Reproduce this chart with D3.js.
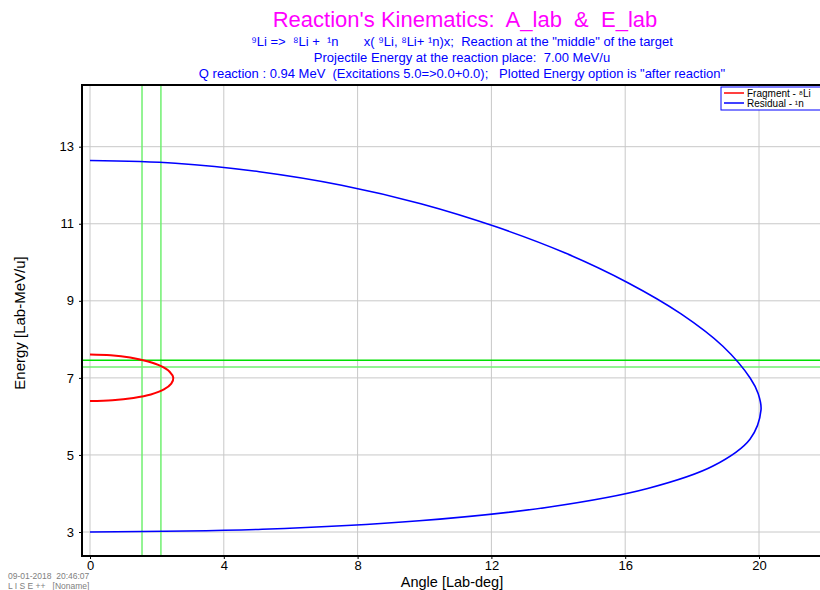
<!DOCTYPE html>
<html>
<head>
<meta charset="utf-8">
<script src="https://cdn.jsdelivr.net/npm/d3@7"></script>
<style>
  body { margin: 0; background: #fff; }
  svg { display: block; font-family: Arial, "Liberation Sans", sans-serif; }
</style>
</head>
<body>
<svg width="820" height="590"></svg>
<script>
// Fragment (8Li) curve: [angle, energy]
const fragment = [
  [0, 7.61], [0.62, 7.59], [1.20, 7.53], [1.71, 7.43], [2.11, 7.31], [2.38, 7.16],
  [2.49, 7.00], [2.43, 6.85], [2.21, 6.70], [1.82, 6.57], [1.30, 6.48], [0.67, 6.42], [0, 6.40]
];
// Residual (1n) curve: [angle, energy]
const residual = [
  [0, 12.64], [2.55, 12.57], [5.06, 12.35], [7.52, 12.00], [9.89, 11.52], [12.14, 10.92],
  [14.21, 10.24], [16.08, 9.47], [17.67, 8.66], [18.92, 7.82], [19.74, 6.99], [19.98, 6.58],
  [20.06, 6.17], [19.73, 5.41], [18.64, 4.72], [16.67, 4.13], [13.74, 3.65], [9.84, 3.29],
  [5.15, 3.07], [0, 3.00]
];
// green marker lines
const vLines = [1.555, 2.12];
const hLines = [7.46, 7.28];

const xTicks = [0, 4, 8, 12, 16, 20];
const yTicks = [3, 5, 7, 9, 11, 13];

const subtitles = [
  "⁹Li =>  ⁸Li +  ¹n       x( ⁹Li, ⁸Li+ ¹n)x;  Reaction at the \"middle\" of the target",
  "Projectile Energy at the reaction place:  7.00 MeV/u",
  "Q reaction : 0.94 MeV  (Excitations 5.0=>0.0+0.0);   Plotted Energy option is \"after reaction\""
];

const pLeft = 82, pTop = 85, pRight = 822, pBottom = 556;

const svg = d3.select("svg");

const x = d3.scaleLinear().domain([0, 20]).range([90, 759]);
const y = d3.scaleLinear().domain([3, 13]).range([532, 146.7]);

// Titles
svg.append("text")
    .attr("x", 465).attr("y", 27)
    .attr("text-anchor", "middle")
    .attr("font-size", 22)
    .attr("fill", "#ff00ff")
    .attr("xml:space", "preserve")
    .text("Reaction's Kinematics:  A_lab  &  E_lab");

svg.append("g").selectAll("text")
  .data(subtitles)
  .enter().append("text")
    .attr("x", 462)
    .attr("y", (d, i) => 46 + i * 16)
    .attr("text-anchor", "middle")
    .attr("font-size", 13)
    .attr("fill", "#0000ff")
    .attr("xml:space", "preserve")
    .text(d => d);

// Grid
const grid = svg.append("g");
grid.selectAll("line.gx")
  .data(xTicks)
  .enter().append("line")
    .attr("x1", d => x(d)).attr("x2", d => x(d))
    .attr("y1", pTop).attr("y2", pBottom)
    .attr("stroke", "#c8c8c8").attr("stroke-width", 1);
grid.selectAll("line.gy")
  .data(yTicks)
  .enter().append("line")
    .attr("x1", pLeft).attr("x2", pRight)
    .attr("y1", d => y(d)).attr("y2", d => y(d))
    .attr("stroke", "#c8c8c8").attr("stroke-width", 1);

// Green marker lines
svg.append("g").selectAll("line")
  .data(vLines)
  .enter().append("line")
    .attr("x1", d => x(d)).attr("x2", d => x(d))
    .attr("y1", pTop).attr("y2", pBottom)
    .attr("stroke", "#70f070").attr("stroke-width", 1.5);
svg.append("g").selectAll("line")
  .data(hLines)
  .enter().append("line")
    .attr("x1", pLeft).attr("x2", pRight)
    .attr("y1", d => y(d)).attr("y2", d => y(d))
    .attr("stroke", (d, i) => i === 0 ? "#00e000" : "#70f070")
    .attr("stroke-width", 1.5);

// Curves
const line = d3.line()
    .x(d => x(d[0]))
    .y(d => y(d[1]))
    .curve(d3.curveCatmullRom.alpha(0.5));

svg.append("path")
    .datum(residual)
    .attr("d", line)
    .attr("fill", "none")
    .attr("stroke", "#0000ff")
    .attr("stroke-width", 1.6);

svg.append("path")
    .datum(fragment)
    .attr("d", line)
    .attr("fill", "none")
    .attr("stroke", "#ff0000")
    .attr("stroke-width", 2);

// Axes frame
svg.append("path")
    .attr("d", `M${pRight},${pTop}H${pLeft}V${pBottom}H${pRight}`)
    .attr("fill", "none")
    .attr("stroke", "#000")
    .attr("stroke-width", 2);

// Axes
const xAxis = svg.append("g")
    .attr("transform", `translate(0,${pBottom})`)
    .call(d3.axisBottom(x).tickValues(xTicks).tickSize(3).tickPadding(2));
const yAxis = svg.append("g")
    .attr("transform", `translate(${pLeft},0)`)
    .call(d3.axisLeft(y).tickValues(yTicks).tickSize(3).tickPadding(5));
[xAxis, yAxis].forEach(a => {
  a.select(".domain").remove();
  a.selectAll("text").attr("font-size", 13).attr("fill", "#000")
    .attr("font-family", "Arial, 'Liberation Sans', sans-serif");
  a.selectAll(".tick line").attr("stroke", "#000");
});

// Axis labels
svg.append("text")
    .attr("x", 452).attr("y", 587)
    .attr("text-anchor", "middle")
    .attr("font-size", 14.5)
    .text("Angle [Lab-deg]");
svg.append("text")
    .attr("transform", "translate(25,323) rotate(-90)")
    .attr("text-anchor", "middle")
    .attr("font-size", 15)
    .text("Energy [Lab-MeV/u]");

// Legend
const legend = svg.append("g").attr("transform", "translate(721,87)");
legend.append("rect")
    .attr("x", 0).attr("y", 0)
    .attr("width", 104).attr("height", 23)
    .attr("fill", "#fff")
    .attr("stroke", "#0000ff").attr("stroke-width", 1);
const legendItems = [["Fragment - ⁸Li", "#ff0000"], ["Residual - ¹n", "#0000ff"]];
legendItems.forEach((d, i) => {
  legend.append("line")
      .attr("x1", 3).attr("x2", 23)
      .attr("y1", 6 + i * 10).attr("y2", 6 + i * 10)
      .attr("stroke", d[1]).attr("stroke-width", 1.5);
  legend.append("text")
      .attr("x", 26).attr("y", 9.5 + i * 10)
      .attr("font-size", 10)
      .text(d[0]);
});

// Footer
svg.append("text")
    .attr("x", 8).attr("y", 579)
    .attr("font-size", 8.5).attr("fill", "#808080")
    .attr("xml:space", "preserve")
    .text("09-01-2018  20:46:07");
svg.append("text")
    .attr("x", 8).attr("y", 589)
    .attr("font-size", 8.5).attr("fill", "#808080")
    .attr("xml:space", "preserve")
    .text("L I S E ++   [Noname]");
</script>
</body>
</html>
